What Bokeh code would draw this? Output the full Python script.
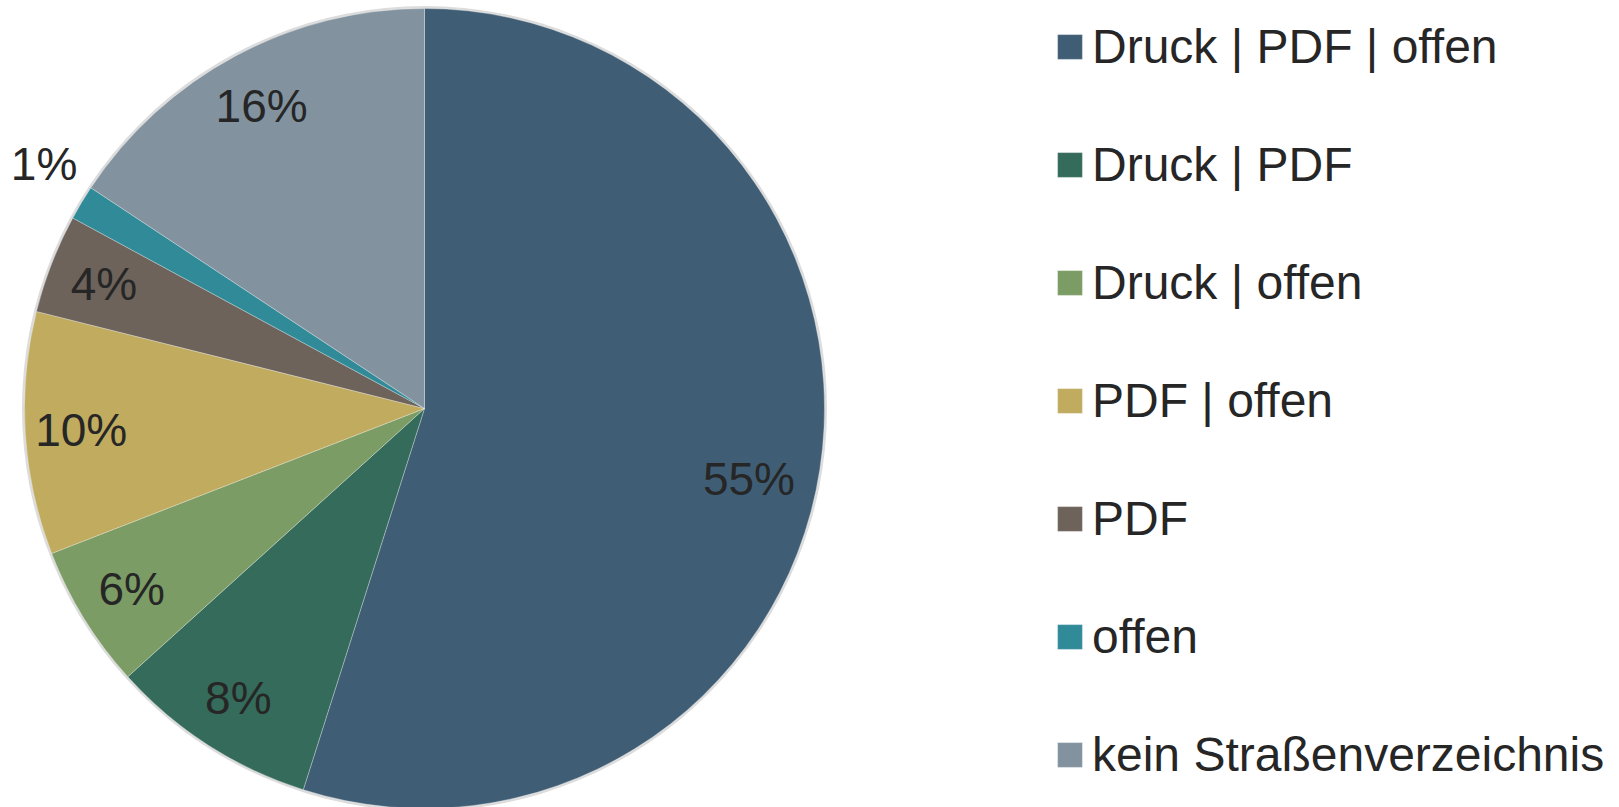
import math
from bokeh.plotting import figure
from bokeh.models import ColumnDataSource, Range1d, Legend, LegendItem
from bokeh.core.properties import value
from bokeh.embed import file_html
from bokeh.resources import INLINE

categories = ["Druck | PDF | offen", "Druck | PDF", "Druck | offen", "PDF | offen",
              "PDF", "offen", "kein Straßenverzeichnis"]
shares = [54.9, 8.4, 5.8, 9.8, 4.0, 1.4, 15.7]
colors = ["#3f5e75", "#356b5a", "#7b9c64", "#c0ab5f", "#6d635b", "#308a98", "#82939f"]

W, H = 1619, 807
CX, CY, R = 424, 399, 400
FONT = "Liberation Sans"

total = sum(shares)
starts, ends, lx, ly, labels = [], [], [], [], []
cum = 0.0
for s in shares:
    a0 = math.pi / 2 - 2 * math.pi * cum / total
    a1 = math.pi / 2 - 2 * math.pi * (cum + s) / total
    starts.append(a0)
    ends.append(a1)
    frac = s / total
    mid = (a0 + a1) / 2
    if frac < 0.02:
        r = 1.13 * R
        mid -= 0.03
    elif frac > 0.5:
        r = 0.83 * R
        mid -= 0.06
    else:
        r = 0.86 * R
    lx.append(CX + r * math.cos(mid))
    ly.append(CY + r * math.sin(mid))
    labels.append(f"{round(100 * frac)}%")
    cum += s

src = ColumnDataSource(dict(cat=categories, start=starts, end=ends, color=colors,
                            x=[CX] * len(shares), y=[CY] * len(shares)))
lsrc = ColumnDataSource(dict(x=lx, y=ly, text=labels))

p = figure(width=W, height=H, x_range=Range1d(0, W), y_range=Range1d(807 - H, 807),
           output_backend="svg", toolbar_location=None, min_border=0,
           x_axis_type=None, y_axis_type=None)
p.grid.visible = False
p.outline_line_color = None
p.background_fill_color = "white"
p.border_fill_color = "white"

# faint shadow ring
p.circle(x=[CX], y=[CY], radius=R + 2.5, fill_color="#dcdcdc", line_color=None)

wr = p.wedge(x="x", y="y", radius=R, start_angle="start", end_angle="end",
             direction="clock", fill_color="color", line_color="white",
             line_width=0.6, line_alpha=0.5, source=src)

p.text(x="x", y="y", text="text", source=lsrc, text_align="center",
       text_baseline="middle", text_font=value(FONT), text_font_size="46px",
       text_color="#262626")

items = [LegendItem(label=c, renderers=[wr], index=i) for i, c in enumerate(categories)]
legend = Legend(items=items, location=(1054, 23), orientation="vertical",
                glyph_width=31, glyph_height=31, label_height=60, spacing=58,
                label_standoff=7, padding=0, margin=0,
                label_text_font=FONT, label_text_font_size="48px",
                label_text_color="#262626", border_line_color=None,
                background_fill_alpha=0)
p.add_layout(legend)

open("out.html", "w").write(file_html(p, INLINE))
